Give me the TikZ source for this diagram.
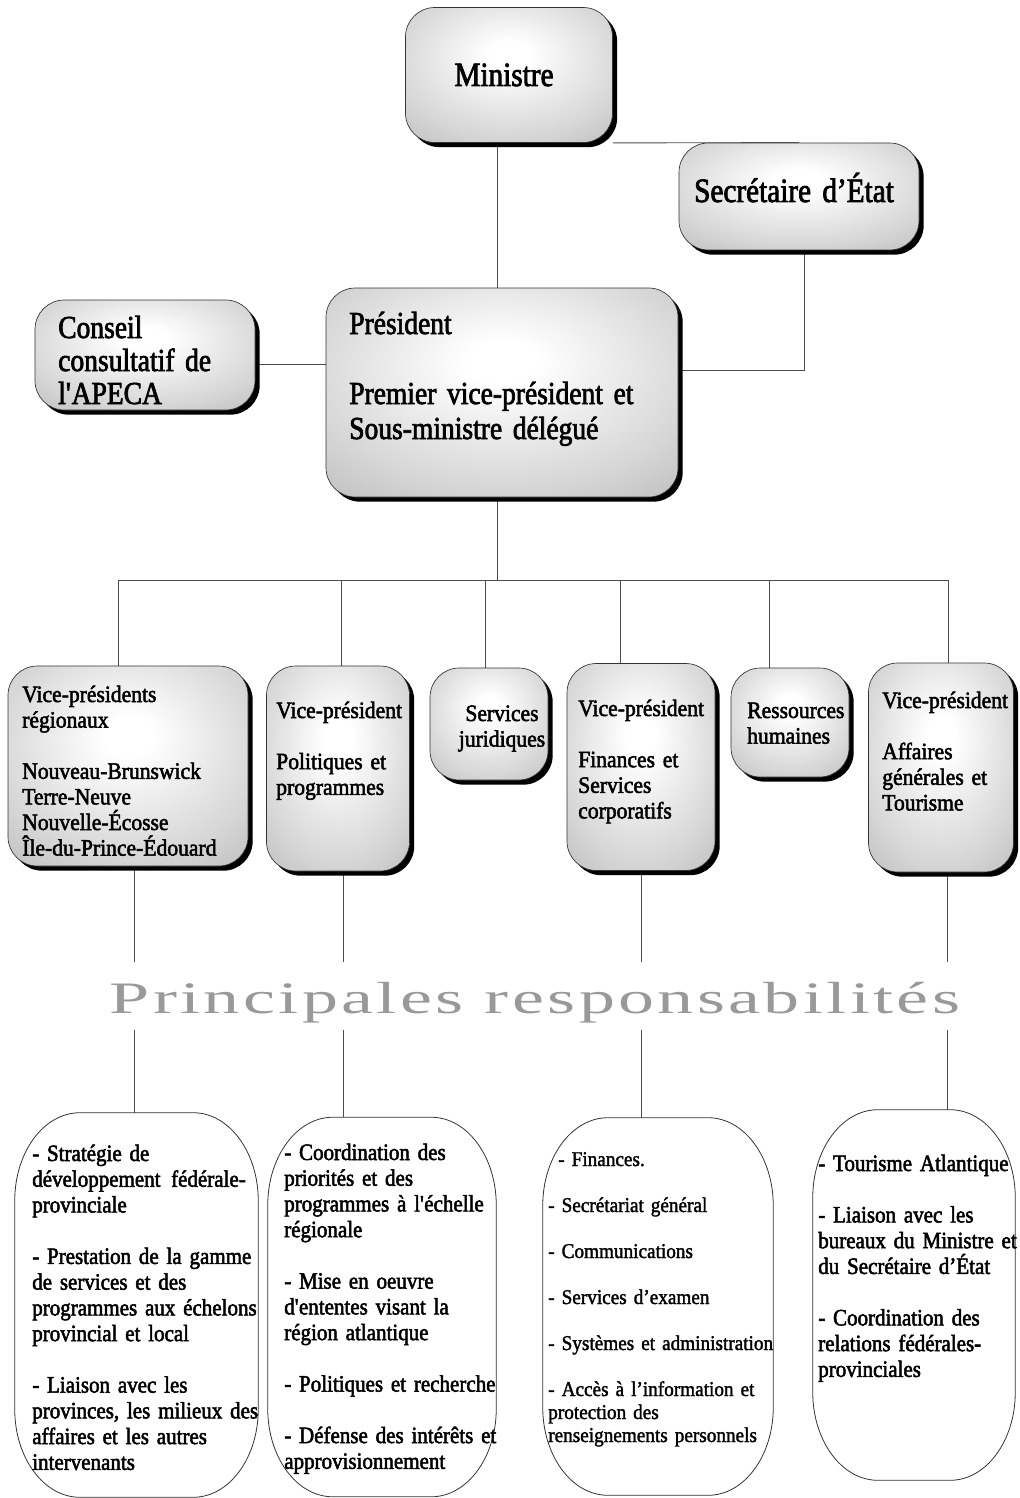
\documentclass[tikz,border=0pt]{standalone}
\usepackage{fontspec}
\setmainfont{Liberation Serif}
\newfontfamily\fbig[FakeStretch=0.86,FakeBold=2.2]{Liberation Serif}
\newfontfamily\fmid[FakeStretch=0.92,FakeBold=2.2]{Liberation Serif}
\newfontfamily\fbot[FakeStretch=0.895,FakeBold=2.2]{Liberation Serif}
\newfontfamily\fsml[FakeStretch=0.915,FakeBold=1.6]{Liberation Serif}
\newfontfamily\ftitle[FakeStretch=1.6,LetterSpace=7.5]{Liberation Serif}
\usetikzlibrary{shadows,backgrounds,calc}
\pgfdeclareradialshading{boxshade}{\pgfpoint{0bp}{8bp}}{color(0bp)=(white); color(5bp)=(white); color(28bp)=(black!16); color(50bp)=(black!34); color(75bp)=(black!48)}
\tikzset{
  gbox/.style={rectangle, rounded corners=22pt, draw=black!80, line width=0.5pt, shading=boxshade,
    drop shadow={fill=black, opacity=1, shadow xshift=3.5pt, shadow yshift=-3.5pt}, inner sep=0pt},
  rbox/.style={rectangle, inner sep=0pt},
  rline/.style={draw=black!80, line width=0.6pt},
  conn/.style={draw=black!70, line width=0.7pt},
  tbig/.style={inner sep=0pt, anchor=base west, align=left, text width=260pt, font=\fbig\fontsize{25.5pt}{26.25pt}\selectfont},
  tpres/.style={inner sep=0pt, anchor=base west, align=left, text width=260pt, font=\fbig\fontsize{24pt}{26.25pt}\selectfont},
  tmid/.style={inner sep=0pt, anchor=base west, align=left, text width=200pt, font=\fmid\fontsize{17.6pt}{19.2pt}\selectfont},
  tbot/.style={inner sep=0pt, anchor=base west, align=left, text width=200pt, font=\fbot\fontsize{17.6pt}{19.3pt}\selectfont},
  tsml/.style={inner sep=0pt, anchor=base west, align=left, text width=200pt, font=\fsml\fontsize{15.75pt}{17.25pt}\selectfont},
  ttl/.style={inner sep=0pt, text=black!40, font=\ftitle\fontsize{33.75pt}{40pt}\selectfont, text height=38.25pt, text depth=12.75pt, anchor=base},
}
% outline with elliptical corners around a named node
\newcommand\drawoval[1]{%
  \draw[rline] ($(#1.north west)+(65,0)$) -- ($(#1.north east)+(-65,0)$)
    arc[start angle=90, end angle=0, x radius=48.75pt, y radius=66pt]
    -- ($(#1.south east)+(0,-88)$)
    arc[start angle=0, end angle=-90, x radius=48.75pt, y radius=66pt]
    -- ($(#1.south west)+(65,0)$)
    arc[start angle=270, end angle=180, x radius=48.75pt, y radius=66pt]
    -- ($(#1.north west)+(0,88)$)
    arc[start angle=180, end angle=90, x radius=48.75pt, y radius=66pt] -- cycle;}
\begin{document}
\begin{tikzpicture}[x=0.75pt,y=-0.75pt]
\useasboundingbox (0,0) rectangle (1020,1498);

% shaded boxes
\node[gbox, minimum width=155.25pt, minimum height=101.25pt] (min)  at (509,75) {};
\node[gbox, minimum width=180pt,    minimum height=80.25pt]  (sec)  at (799,196.5) {};
\node[gbox, minimum width=264pt,    minimum height=156.75pt] (pres) at (502,392.5) {};
\node[gbox, minimum width=165pt,    minimum height=82.5pt]   (cons) at (145,355) {};
\node[gbox, minimum width=180pt,    minimum height=150pt]    (vpr)  at (128,766) {};
\node[gbox, minimum width=107.25pt, minimum height=153.75pt] (vpp)  at (338,768.5) {};
\node[gbox, minimum width=88.5pt,   minimum height=84pt]     (sj)   at (489,724) {};
\node[gbox, minimum width=111pt,    minimum height=155.25pt] (vpf)  at (641,767) {};
\node[gbox, minimum width=88.5pt,   minimum height=81.75pt]  (rh)   at (790,722.5) {};
\node[gbox, minimum width=108.75pt, minimum height=156.75pt] (vpa)  at (941,767.5) {};

% texts of shaded boxes
\node[tbig, anchor=base, align=center, text width=150pt] (minT) at (504,86) {Ministre};
\node[tbig, anchor=base, align=center, text width=175pt] (secT) at (794,202) {Secrétaire d’État};
\node[tpres, font=\fbig\fontsize{24pt}{24.75pt}\selectfont] (consT) at (58,338) {Conseil\\consultatif de\\l\textquotesingle APECA};
\node[tpres] (presT) at (349,334) {Président\\[26.25pt]Premier vice-président et\\Sous-ministre délégué};
\node[tmid] (vprT) at (22,702) {Vice-présidents\\régionaux\\[19.2pt]Nouveau-Brunswick\\Terre-Neuve\\Nouvelle-Écosse\\Île-du-Prince-Édouard};
\node[tmid] (vppT) at (276,718) {Vice-président\\[19.2pt]Politiques et\\programmes};
\node[tmid, anchor=base, align=center, text width=110pt] (sjT) at (502,721) {Services\\juridiques};
\node[tmid] (vpfT) at (578,716) {Vice-président\\[19.2pt]Finances et\\Services\\corporatifs};
\node[tmid] (rhT) at (747,718) {Ressources\\humaines};
\node[tmid] (vpaT) at (882,708) {Vice-président\\[19.2pt]Affaires\\générales et\\Tourisme};

% title
\node[ttl] (title) at (535,1013) {Principales responsabilités};

% bottom boxes
\node[rbox, minimum width=182.25pt, minimum height=288pt]   (b1) at (136.5,1305) {};
\node[rbox, minimum width=171pt,    minimum height=284.25pt] (b2) at (382,1307) {};
\node[rbox, minimum width=172.5pt,  minimum height=282.75pt] (b3) at (658,1306.5) {};
\node[rbox, minimum width=151.5pt,  minimum height=277.5pt]  (b4) at (914,1295) {};
\drawoval{b1}
\drawoval{b2}
\drawoval{b3}
\drawoval{b4}

\node[tbot] (b1T) at (32,1161) {- Stratégie de\\développement\hspace{0.45em}fédérale-\\provinciale\\[19.3pt]- Prestation de la gamme\\de services et des\\programmes aux échelons\\provincial et local\\[19.3pt]- Liaison avec les\\provinces, les milieux des\\affaires et les autres\\intervenants};
\node[tbot] (b2T) at (284,1160) {- Coordination des\\priorités et des\\programmes à l\textquotesingle échelle\\régionale\\[19.3pt]- Mise en oeuvre\\d\textquotesingle ententes visant la\\région atlantique\\[19.3pt]- Politiques et recherche\\[19.3pt]- Défense des intérêts et\\approvisionnement};
\node[tsml] (b3T) at (548,1166) {\hspace*{7.5pt}- Finances.\\[17.25pt]- Secrétariat général\\[17.25pt]- Communications\\[17.25pt]- Services d’examen\\[17.25pt]- Systèmes et administration\\[17.25pt]- Accès à l’information et\\protection des\\renseignements personnels};
\node[tbot] (b4T) at (818,1171) {- Tourisme Atlantique\\[19.3pt]- Liaison avec les\\bureaux du Ministre et\\du Secrétaire d’État\\[19.3pt]- Coordination des\\relations fédérales-\\provinciales};

% connectors
\begin{scope}[on background layer]
  \coordinate (xa) at (497,0);
  \draw[conn] (xa |- min.south) -- (xa |- pres.north);
  \draw[conn] (min.south east) -- (sec.north);
  \coordinate (ya) at (804,370);
  \draw[conn] (ya |- sec.south) -- (ya) -- (ya -| pres.east);
  \coordinate (yb) at (0,364);
  \draw[conn] (yb -| cons.east) -- (yb -| pres.west);
  \coordinate (bus) at (497,580);
  \draw[conn] (bus |- pres.south) -- (bus);
  \coordinate (d1) at (118,580);
  \coordinate (d2) at (341,580);
  \coordinate (d3) at (485,580);
  \coordinate (d4) at (620,580);
  \coordinate (d5) at (769,580);
  \coordinate (d6) at (948,580);
  \draw[conn] (d1) -- (d6);
  \draw[conn] (d1) -- (d1 |- vpr.north);
  \draw[conn] (d2) -- (d2 |- vpp.north);
  \draw[conn] (d3) -- (d3 |- sj.north);
  \draw[conn] (d4) -- (d4 |- vpf.north);
  \draw[conn] (d5) -- (d5 |- rh.north);
  \draw[conn] (d6) -- (d6 |- vpa.north);
  \coordinate (l1) at (134,0);
  \coordinate (l2) at (343,0);
  \coordinate (l3) at (641,0);
  \coordinate (l4) at (947,0);
  \draw[conn] (l1 |- vpr.south) -- (l1 |- title.north);
  \draw[conn] (l1 |- title.south) -- (l1 |- b1.north);
  \draw[conn] (l2 |- vpp.south) -- (l2 |- title.north);
  \draw[conn] (l2 |- title.south) -- (l2 |- b2.north);
  \draw[conn] (l3 |- vpf.south) -- (l3 |- title.north);
  \draw[conn] (l3 |- title.south) -- (l3 |- b3.north);
  \draw[conn] (l4 |- vpa.south) -- (l4 |- title.north);
  \draw[conn] (l4 |- title.south) -- (l4 |- b4.north);
\end{scope}
\end{tikzpicture}
\end{document}
